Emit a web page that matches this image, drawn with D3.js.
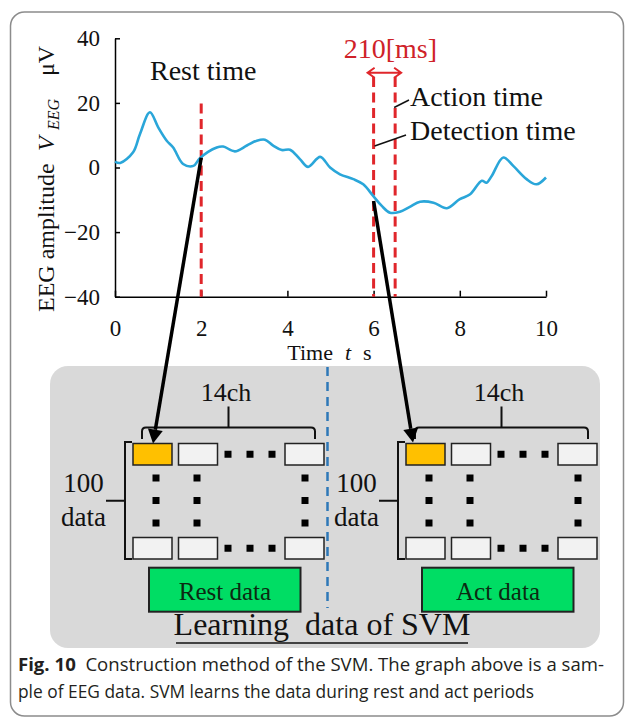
<!DOCTYPE html>
<html>
<head>
<meta charset="utf-8">
<script src="https://cdn.jsdelivr.net/npm/d3@7"></script>
<style>
  body { margin: 0; background: #fff; }
  svg { display: block; }
</style>
</head>
<body>
<svg id="fig" width="630" height="722"></svg>
<script>
// EEG sample trace: time in s, amplitude in uV
const eegTime = [0, 0.12, 0.42, 0.58, 0.81, 1.0, 1.2, 1.35, 1.58, 1.82, 1.97, 2.36, 2.51, 2.78, 3.06, 3.29, 3.48, 3.67, 3.87, 4.06, 4.29, 4.48, 4.76, 4.99, 5.22, 5.53, 5.76, 5.99, 6.19, 6.38, 6.61, 6.84, 7.08, 7.39, 7.70, 8.0, 8.24, 8.51, 8.62, 8.74, 9.01, 9.24, 9.55, 9.78, 10];
const eegAmp  = [1.8, 1.4, 4.7, 10.4, 17.1, 12.5, 8.3, 6.2, 1.1, 0.5, 2.9, 6.2, 6.5, 5.0, 6.8, 8.3, 8.6, 6.8, 5.4, 5.5, 2.6, 0.2, 3.3, 0, -2.1, -3.6, -5.2, -8.8, -11.9, -14.0, -13.7, -12.2, -10.6, -10.9, -12.6, -9.8, -8.3, -4.1, -4.7, -2.6, 3.1, 0.5, -3.6, -5.2, -3.1];

const xTicks = [0, 2, 4, 6, 8, 10];
const yTicks = [-40, -20, 0, 20, 40];

// marked instants (s)
const restTime = 2;
const detectTime = 6;
const actionTime = 6.5;

// lower diagram
const groups = ["Rest data", "Act data"];
const channelText = "14ch";
const sampleText = ["100", "data"];

const svg = d3.select("#fig");
const serif = "'Liberation Serif', 'Times New Roman', serif";

// outer frame
svg.append("rect")
  .attr("x", 10.5).attr("y", 12).attr("width", 613).attr("height", 704)
  .attr("rx", 14)
  .attr("fill", "none").attr("stroke", "#8c8c8c").attr("stroke-width", 1.5);

// scales
const x = d3.scaleLinear().domain([0, 10]).range([115, 546]);
const y = d3.scaleLinear().domain([-40, 40]).range([296.7, 38.3]);

// gray learning-data panel (drawn first, arrows go over it)
svg.append("rect")
  .attr("x", 50).attr("y", 366).attr("width", 550).attr("height", 282)
  .attr("rx", 18).attr("fill", "#d9d9d9");

// axes
const yAxis = svg.append("g")
  .attr("transform", `translate(${x(0)},0)`)
  .call(d3.axisLeft(y).tickValues(yTicks).tickSizeInner(-5).tickSizeOuter(0).tickPadding(15));
const xAxis = svg.append("g")
  .attr("transform", `translate(0,${y(-40)})`)
  .call(d3.axisBottom(x).tickValues(xTicks).tickSizeInner(-6).tickSizeOuter(0).tickPadding(23));

[xAxis, yAxis].forEach(a => {
  a.selectAll("path, line").attr("stroke", "#000").attr("stroke-width", 1.5);
  a.selectAll("text").attr("font-family", serif).attr("font-size", 23).attr("fill", "#111");
});

// axis titles
svg.append("text")
  .attr("x", x(5) - 1).attr("y", 360)
  .attr("text-anchor", "middle")
  .attr("font-family", serif).attr("font-size", 22).attr("fill", "#111")
  .html('Time<tspan font-style="italic" dx="12">t</tspan><tspan dx="12">s</tspan>');

const yl = svg.append("g").attr("transform", "translate(54,312) rotate(-90)")
  .attr("font-family", serif).attr("fill", "#111");
yl.append("text").attr("x", 0).attr("font-size", 24).text("EEG amplitude");
yl.append("text").attr("x", 161).attr("font-size", 24).attr("font-style", "italic").text("V");
yl.append("text").attr("x", 182).attr("y", 5).attr("font-size", 16).attr("font-style", "italic").text("EEG");
yl.append("text").attr("x", 236).attr("font-size", 24).text("μV");

// red dashed markers
const red = "#e0262b";
[[restTime, 19.8], [detectTime, 28], [actionTime, 28]].forEach(([t, top]) => {
  svg.append("line")
    .attr("x1", x(t)).attr("x2", x(t))
    .attr("y1", y(top)).attr("y2", y(-40))
    .attr("stroke", red).attr("stroke-width", 3)
    .attr("stroke-dasharray", "10,5.5");
});

// EEG line
const line = d3.line()
  .x((d, i) => x(eegTime[i]))
  .y(d => y(d))
  .curve(d3.curveCatmullRom);
svg.append("path")
  .attr("d", line(eegAmp))
  .attr("fill", "none")
  .attr("stroke", "#2aa6d9")
  .attr("stroke-width", 2.6);

// 210 ms double arrow
const ay = 72.7;
const ax1 = x(detectTime) - 6, ax2 = x(actionTime) + 6;
svg.append("path")
  .attr("d", `M${ax1},${ay}H${ax2}M${ax1 + 7},${ay - 5}L${ax1},${ay}L${ax1 + 7},${ay + 5}M${ax2 - 7},${ay - 5}L${ax2},${ay}L${ax2 - 7},${ay + 5}`)
  .attr("fill", "none").attr("stroke", red).attr("stroke-width", 2);
svg.append("text")
  .attr("x", (x(detectTime) + x(actionTime)) / 2 + 6).attr("y", 58)
  .attr("text-anchor", "middle")
  .attr("font-family", serif).attr("font-size", 28).attr("fill", "#cf2229")
  .text("210[ms]");

// text labels with leaders
const lab = (tx, ty, s) => svg.append("text")
  .attr("x", tx).attr("y", ty)
  .attr("font-family", serif).attr("font-size", 28).attr("fill", "#111")
  .text(s);
lab(150, 80, "Rest time");
lab(410, 106, "Action time");
lab(410, 140, "Detection time");
svg.append("line").attr("x1", x(actionTime) - 1).attr("y1", 107.5).attr("x2", 409).attr("y2", 100)
  .attr("stroke", "#111").attr("stroke-width", 1.5);
svg.append("line").attr("x1", x(detectTime) + 1).attr("y1", 146).attr("x2", 406).attr("y2", 135)
  .attr("stroke", "#111").attr("stroke-width", 1.5);

// ---- lower diagram
const band = d3.scaleBand().domain(groups).range([58, 604]);
const colOff = d3.scaleOrdinal().domain(["ch1", "ch2", "ch14"]).range([0, 45.5, 152]);
const cellW = 39, cellH = 21.5;
const topRow = 443.5, botRow = 537.5;

function drawMatrix(g) {
  const X0 = band(g) + 75;
  const grp = svg.append("g");

  // brace over channels
  const by = 427.5;
  grp.append("path")
    .attr("d", `M${X0 + 9},439V${by + 4}Q${X0 + 9},${by} ${X0 + 13},${by}H${X0 + 178}Q${X0 + 182},${by} ${X0 + 182},${by + 4}V439M${X0 + 95.5},${by}V406.5`)
    .attr("fill", "none").attr("stroke", "#111").attr("stroke-width", 2);
  grp.append("text")
    .attr("x", X0 + 93).attr("y", 400.7).attr("text-anchor", "middle")
    .attr("font-family", serif).attr("font-size", 26).attr("fill", "#111")
    .text(channelText);

  // bracket over samples
  grp.append("path")
    .attr("d", `M${X0 - 1},442H${X0 - 8}V559H${X0 - 1}M${X0 - 8},500.7H${X0 - 27}`)
    .attr("fill", "none").attr("stroke", "#111").attr("stroke-width", 2);
  sampleText.forEach((s, i) => {
    grp.append("text")
      .attr("x", X0 - 49.5).attr("y", i === 0 ? 491.7 : 526).attr("text-anchor", "middle")
      .attr("font-family", serif).attr("font-size", 27).attr("fill", "#111")
      .text(s);
  });

  // cells
  [topRow, botRow].forEach((ry, r) => {
    colOff.domain().forEach((c, ci) => {
      grp.append("rect")
        .attr("x", X0 + colOff(c)).attr("y", ry)
        .attr("width", cellW).attr("height", cellH)
        .attr("fill", r === 0 && ci === 0 ? "#ffc000" : "#f2f2f2")
        .attr("stroke", "#222").attr("stroke-width", 1.5);
    });
    [95, 117, 139].forEach(dx => {
      grp.append("rect")
        .attr("x", X0 + dx - 3.5).attr("y", ry + cellH / 2 - 3.5)
        .attr("width", 7).attr("height", 7).attr("fill", "#000");
    });
  });
  [23, 64, 172].forEach(dx => {
    [478, 500.5, 523].forEach(dy => {
      grp.append("rect")
        .attr("x", X0 + dx - 3.5).attr("y", dy - 3.5)
        .attr("width", 7).attr("height", 7).attr("fill", "#000");
    });
  });

  // green label box
  grp.append("rect")
    .attr("x", X0 + 16).attr("y", 567.7).attr("width", 151.5).attr("height", 44)
    .attr("fill", "#00dd64").attr("stroke", "#222").attr("stroke-width", 2);
  grp.append("text")
    .attr("x", X0 + 92).attr("y", 600).attr("text-anchor", "middle")
    .attr("font-family", serif).attr("font-size", 25).attr("fill", "#0c2a12")
    .text(g);
  return X0;
}

// separator
svg.append("line")
  .attr("x1", 327.5).attr("x2", 327.5).attr("y1", 367).attr("y2", 608)
  .attr("stroke", "#2e78b8").attr("stroke-width", 2.5).attr("stroke-dasharray", "9,6");

const origins = groups.map(drawMatrix);

svg.append("text")
  .attr("x", 322).attr("y", 635).attr("text-anchor", "middle")
  .attr("font-family", serif).attr("font-size", 32).attr("fill", "#111")
  .attr("xml:space", "preserve")
  .text("Learning  data of SVM");
svg.append("line").attr("x1", 176).attr("x2", 468).attr("y1", 643).attr("y2", 643)
  .attr("stroke", "#111").attr("stroke-width", 1.5);

// black arrows from the trace to the first cell
function drawArrow(x1, y1, x2, y2) {
  const ang = Math.atan2(y2 - y1, x2 - x1);
  const len = 14, half = 7.5;
  const bx = x2 - len * Math.cos(ang), by = y2 - len * Math.sin(ang);
  svg.append("line")
    .attr("x1", x1).attr("y1", y1).attr("x2", bx).attr("y2", by)
    .attr("stroke", "#000").attr("stroke-width", 3.5);
  svg.append("polygon")
    .attr("points", `${x2},${y2} ${bx + half * Math.sin(ang)},${by - half * Math.cos(ang)} ${bx - half * Math.sin(ang)},${by + half * Math.cos(ang)}`)
    .attr("fill", "#000");
}
drawArrow(x(restTime), y(3.0), origins[0] + 20, topRow);
drawArrow(x(detectTime), y(-10.4), origins[1] + 7, topRow - 1);

// caption
const cap = svg.append("g").attr("font-family", "'Open Sans', 'Noto Sans', sans-serif")
  .attr("font-size", 18).attr("fill", "#231f20");
cap.append("text").attr("x", 18).attr("y", 671)
  .attr("textLength", 586).attr("lengthAdjust", "spacingAndGlyphs")
  .html('<tspan font-weight="bold">Fig. 10</tspan>  Construction method of the SVM. The graph above is a sam-')
  .attr("xml:space", "preserve");
cap.append("text").attr("x", 18).attr("y", 698)
  .attr("textLength", 516).attr("lengthAdjust", "spacingAndGlyphs")
  .text("ple of EEG data. SVM learns the data during rest and act periods");
</script>
</body>
</html>
